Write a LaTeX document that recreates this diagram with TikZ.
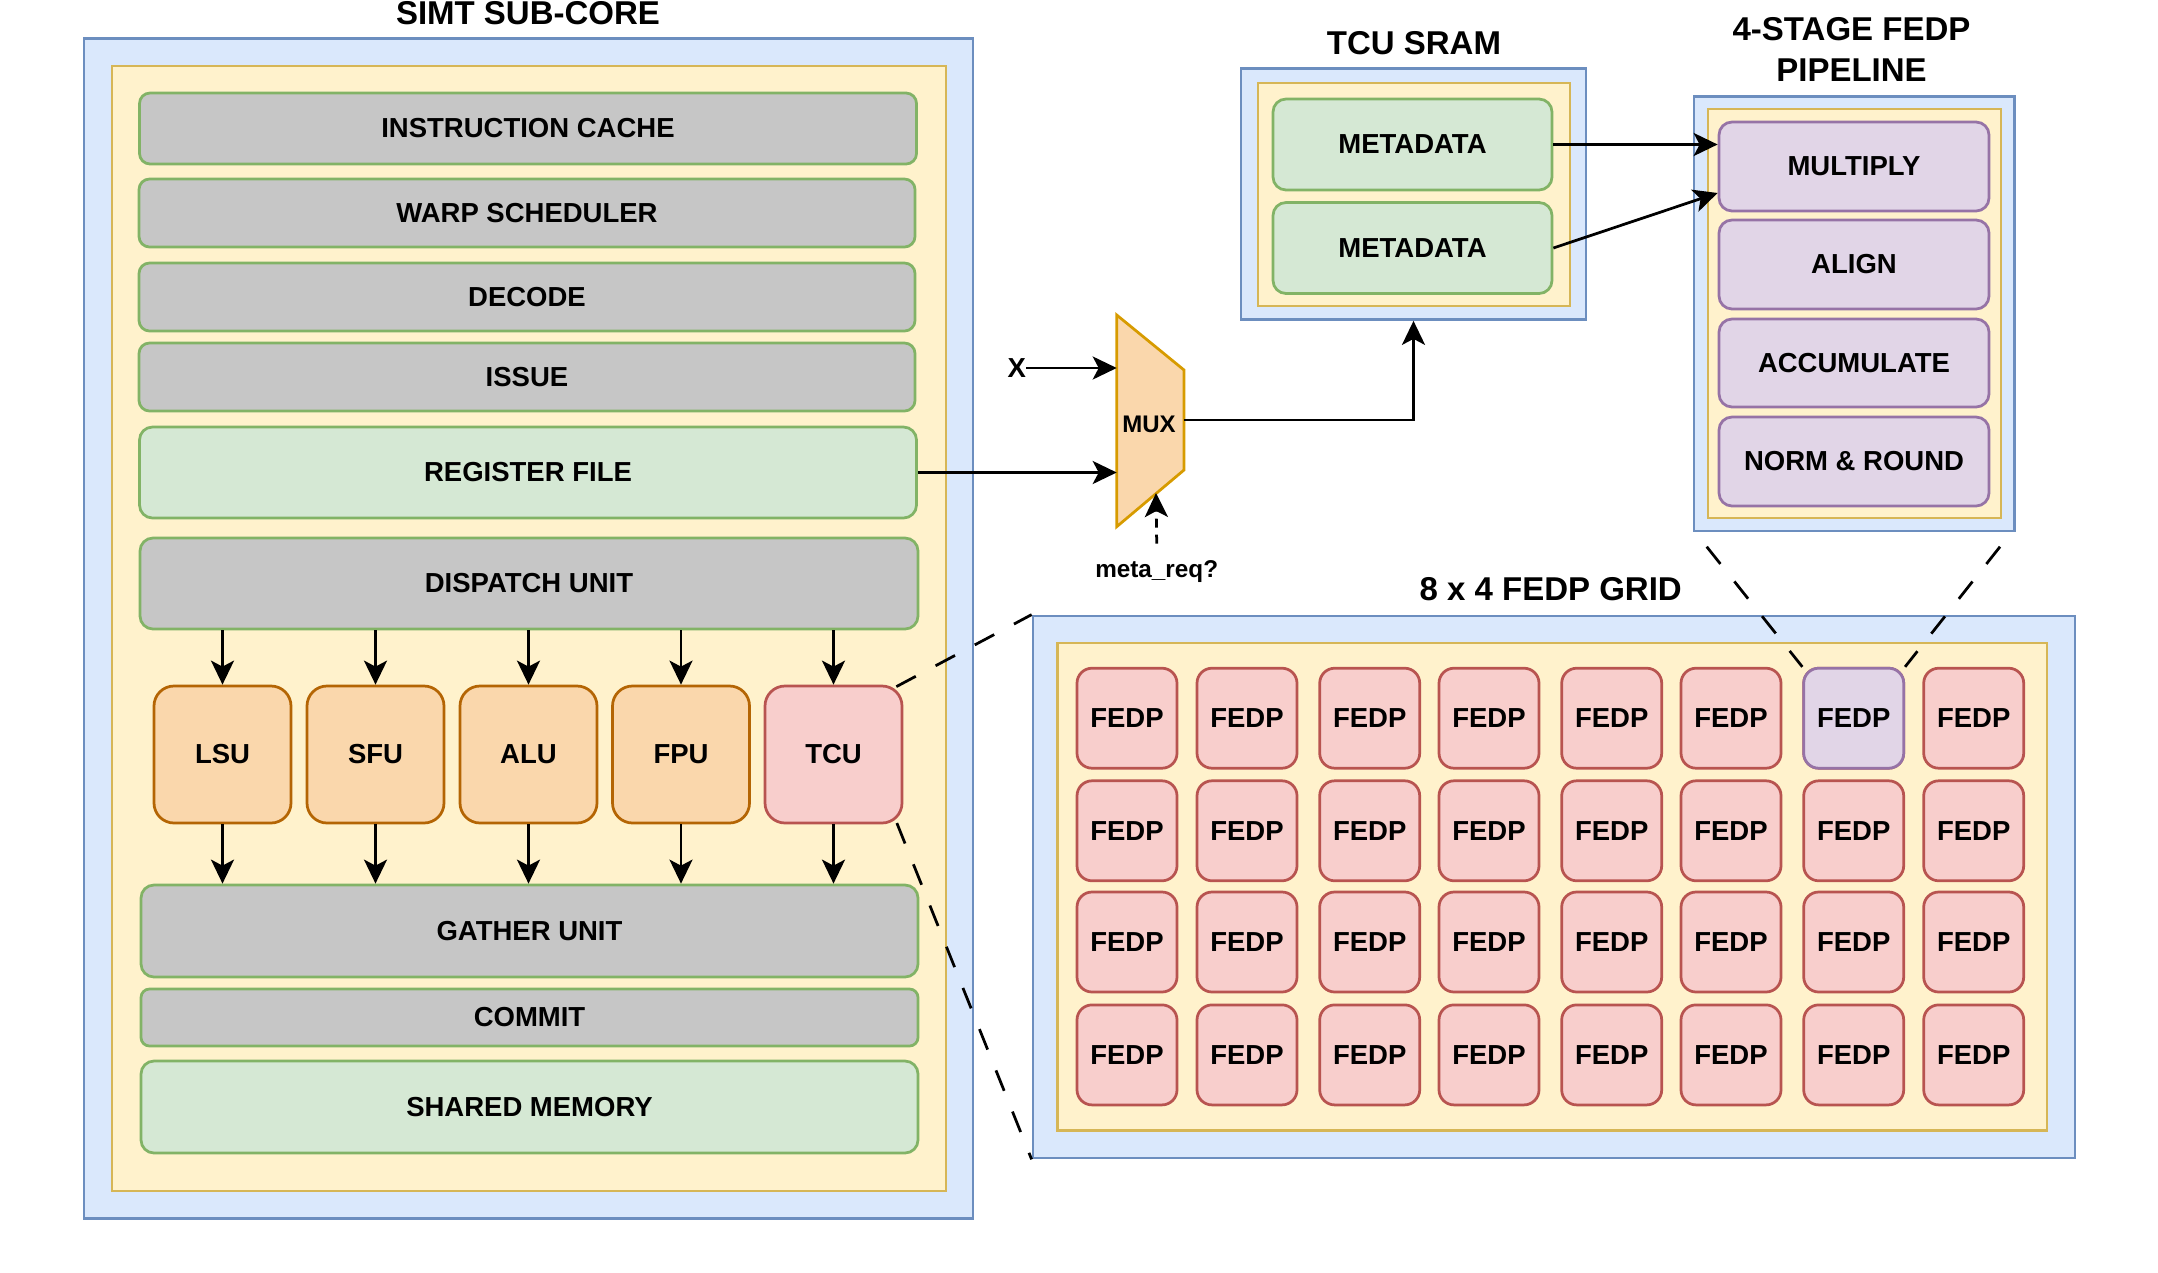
\documentclass[tikz,border=0pt]{standalone}
\usepackage{fontspec}
\setmainfont{Liberation Sans}
\usetikzlibrary{arrows.meta,calc}
\definecolor{bfill}{HTML}{DAE8FC}\definecolor{bline}{HTML}{6C8EBF}
\definecolor{yfill}{HTML}{FFF2CC}\definecolor{yline}{HTML}{D6B656}
\definecolor{gfill}{HTML}{C6C6C6}\definecolor{gline}{HTML}{82B366}
\definecolor{grfill}{HTML}{D5E8D4}
\definecolor{ofill}{HTML}{FAD7AC}\definecolor{oline}{HTML}{B46504}
\definecolor{rfill}{HTML}{F8CECC}\definecolor{rline}{HTML}{B85450}
\definecolor{pfill}{HTML}{E1D5E7}\definecolor{pline}{HTML}{9673A6}
\definecolor{mline}{HTML}{D79B00}
\tikzset{
  lbl/.style={font=\fontsize{27.5}{33}\selectfont\bfseries},
  ttl/.style={font=\fontsize{33}{41}\selectfont\bfseries, align=center},
  box/.style={rectangle, inner sep=0pt, line width=2.75pt, lbl},
  bluebox/.style={box, fill=bfill, draw=bline},
  yelbox/.style={box, fill=yfill, draw=yline},
  graybox/.style={box, fill=gfill, draw=gline, rounded corners=10.5pt},
  greenbox/.style={box, fill=grfill, draw=gline, rounded corners=13pt},
  unitbox/.style={box, fill=ofill, draw=oline, rounded corners=20pt, minimum width=137pt, minimum height=137pt},
  tcubox/.style={box, fill=rfill, draw=rline, rounded corners=20pt, minimum width=137pt, minimum height=137pt},
  fedpbox/.style={box, fill=rfill, draw=rline, rounded corners=15pt, minimum width=100pt, minimum height=100pt},
  purpbox/.style={box, fill=pfill, draw=pline, rounded corners=13pt},
  conn/.style={line width=2.75pt, -{Stealth[length=24pt,width=23pt,inset=6pt]}},
  dconn/.style={conn, dash pattern=on 9pt off 7pt},
  zoomline/.style={line width=2.75pt, dash pattern=on 22pt off 22.4pt},
}
\begin{document}
\begin{tikzpicture}[x=1pt,y=-1pt]
\useasboundingbox (0,0) rectangle (2158,1272);
% ---------- SIMT SUB-CORE ----------
\node[bluebox, minimum width=889pt, minimum height=1180pt] (simt) at (528.5,628.5) {};
\node[yelbox, minimum width=834pt, minimum height=1125pt] (simtin) at (529,628.5) {};
\node[ttl] (simttitle) at (528,13) {SIMT SUB-CORE};
\node[graybox, minimum width=777pt, minimum height=71pt] (icache) at (528,128.5) {INSTRUCTION CACHE};
\node[graybox, minimum width=776pt, minimum height=68pt] (warp) at (527,213) {WARP SCHEDULER};
\node[graybox, minimum width=776pt, minimum height=68pt] (decode) at (527,297) {DECODE};
\node[graybox, minimum width=776pt, minimum height=68pt] (issue) at (527,377) {ISSUE};
\node[greenbox, minimum width=777pt, minimum height=91pt] (regf) at (528,472.5) {REGISTER FILE};
\node[graybox, minimum width=778pt, minimum height=91pt, rounded corners=13pt] (disp) at (529,583.5) {DISPATCH UNIT};
\node[unitbox] (lsu) at (222.5,754.5) {LSU};
\node[unitbox] (sfu) at (375.5,754.5) {SFU};
\node[unitbox] (alu) at (528.5,754.5) {ALU};
\node[unitbox] (fpu) at (681,754.5) {FPU};
\node[tcubox] (tcu) at (833.5,754.5) {TCU};
\node[graybox, minimum width=777pt, minimum height=92pt, rounded corners=13pt] (gather) at (529.5,931) {GATHER UNIT};
\node[graybox, minimum width=777pt, minimum height=57pt, rounded corners=8.5pt] (commit) at (529.5,1017.5) {COMMIT};
\node[greenbox, minimum width=777pt, minimum height=92pt] (shmem) at (529.5,1107) {SHARED MEMORY};
\foreach \u in {lsu,sfu,alu,fpu,tcu}{
  \draw[conn] (\u.north |- disp.south) -- (\u.north);
  \draw[conn] (\u.south) -- (\u.south |- gather.north);
}
% ---------- TCU SRAM ----------
\node[bluebox, minimum width=345pt, minimum height=251pt] (sram) at (1413.5,194) {};
\node[yelbox, minimum width=312pt, minimum height=223pt] (sramin) at (1414,194.5) {};
\node[ttl] (sramtitle) at (1414,43) {TCU SRAM};
\node[greenbox, minimum width=279pt, minimum height=91pt] (meta1) at (1412.5,144.5) {METADATA};
\node[greenbox, minimum width=279pt, minimum height=91pt] (meta2) at (1412.5,248) {METADATA};
% ---------- PIPELINE ----------
\node[bluebox, minimum width=320.5pt, minimum height=434.6pt] (pipe) at (1854.25,313.7) {};
\node[yelbox, minimum width=293pt, minimum height=409pt] (pipein) at (1854.5,313.5) {};
\node[ttl] (pipetitle) at (1851.5,49) {4-STAGE FEDP\\PIPELINE};
\node[purpbox, minimum width=270pt, minimum height=89pt] (mul) at (1854,166.5) {MULTIPLY};
\node[purpbox, minimum width=270pt, minimum height=89pt] (align) at (1854,264.5) {ALIGN};
\node[purpbox, minimum width=270pt, minimum height=88pt] (accum) at (1854,363) {ACCUMULATE};
\node[purpbox, minimum width=270pt, minimum height=89pt] (norm) at (1854,461.5) {NORM \& ROUND};
\draw[conn] (meta1.east) -- (mul.west |- meta1.east);
\draw[conn] (meta2.east) -- ([yshift=-26.5pt]mul.west);
% ---------- MUX ----------
\coordinate (mtl) at (1116.7,315);
\coordinate (mtr) at (1184,370);
\coordinate (mbr) at (1184,470);
\coordinate (mbl) at (1116.7,526.7);
\draw[line width=2.75pt, fill=ofill, draw=mline, line join=miter] (mtl) -- (mtr) -- (mbr) -- (mbl) -- cycle;
\node[font=\fontsize{24}{28}\selectfont\bfseries] (mux) at (1149,424) {MUX};
\coordinate (muxin1) at (1116.7,368);
\coordinate (muxin2) at (1116.7,472.5);
\coordinate (muxout) at (1184,420);
\coordinate (muxsel) at (1156,493);
\node[lbl, inner sep=0pt] (xin) at (1016.7,368) {X};
\node[font=\fontsize{24.3}{28}\selectfont\bfseries, inner sep=0pt, anchor=base] (metareq) at (1156.7,577.7) {meta\_req?};
\draw[conn] (xin.east) -- (muxin1);
\draw[conn] (regf.east) -- (muxin2);
\draw[conn] (muxout) -| (sram.south);
\draw[dconn] ([yshift=17pt]metareq.north) -- (muxsel);
% ---------- FEDP GRID ----------
\node[bluebox, minimum width=1042pt, minimum height=542pt] (grid) at (1554,887) {};
\node[yelbox, minimum width=989.5pt, minimum height=487.6pt] (gridin) at (1552.25,886.8) {};
\node[ttl] (gridtitle) at (1550.7,589.6) {8 x 4 FEDP GRID};
\foreach \cx [count=\i] in {1127,1247,1369.7,1489,1611.7,1731,1853.7,1973.7}{
  \foreach \cy [count=\j] in {718.2,830.8,942,1054.9}{
    \node[fedpbox] (f\i-\j) at (\cx,\cy) {FEDP};
  }
}
\node[fedpbox, fill=pfill, draw=pline] (f7-1) at (1853.7,718.2) {FEDP};
% ---------- zoom lines ----------
\coordinate (zl1) at (1706.7,546.7);
\coordinate (zl2) at (2000,546.7);
\draw[zoomline] ([shift={(-7pt,-2pt)}]tcu.north east) -- (grid.north west);
\draw[zoomline] ([shift={(-6.5pt,1.3pt)}]tcu.south east) -- (grid.south west);
\draw[zoomline] (zl1) -- (f7-1.north west);
\draw[zoomline] (zl2) -- (f7-1.north east);
\end{tikzpicture}
\end{document}
